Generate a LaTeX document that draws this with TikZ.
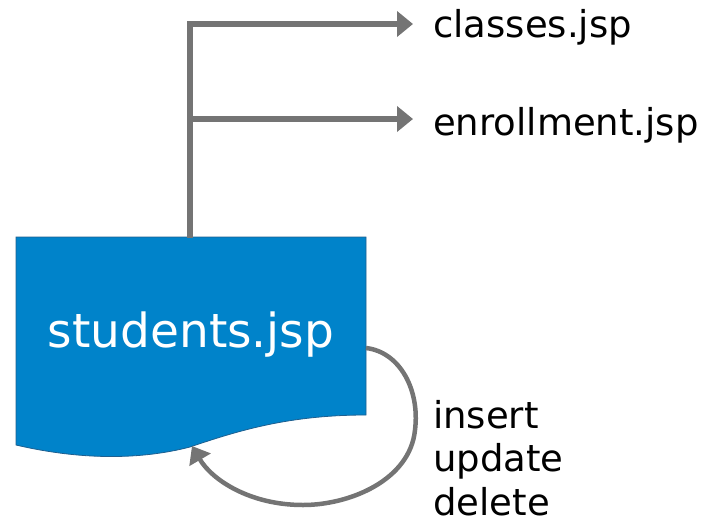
\documentclass[tikz,border=0pt]{standalone}
\usepackage{fontspec}
\setmainfont{DejaVu Sans}
\usetikzlibrary{arrows.meta}
\definecolor{docblue}{HTML}{0083CA}
\definecolor{docedge}{HTML}{1F5F8F}
\definecolor{linegray}{HTML}{747474}
\begin{document}
\begin{tikzpicture}[x=1pt,y=-1pt,
  conn/.style={draw=linegray,line width=6pt,-{Triangle[length=16pt,width=25pt]}},
  loopconn/.style={draw=linegray,line width=4.5pt,-{Triangle[length=16pt,width=24pt]}},
  lbl/.style={anchor=base west,inner sep=0pt,font=\fontsize{37}{44}\selectfont,text=black},
  doctext/.style={anchor=base,inner sep=0pt,font=\fontsize{47}{56}\selectfont,text=white}]
\useasboundingbox (0,0) rectangle (706,525);
% document shape
\path[fill=docblue,draw=docedge,line width=0.8pt]
  (16,237) -- (366,237) -- (366,415)
  .. controls (290,415) and (240,430) .. (190,447)
  .. controls (140,460) and (80,460) .. (16,445) -- cycle;
\node[doctext] (doc) at (191,347) {students.jsp};
\coordinate (top) at (190,238);
\coordinate (loopstart) at (366,348);
\coordinate (loopend) at (192,446);
% labels
\node[lbl] (classes) at (433,37) {classes.jsp};
\node[lbl] (enroll) at (433,135) {enrollment.jsp};
\node[lbl] (ins) at (433,428) {insert};
\node[lbl] (upd) at (433,471) {update};
\node[lbl] (del) at (433,515) {delete};
\coordinate (c1) at (413,24);
\coordinate (c2) at (413,119);
\coordinate (b2) at (190,119);
% connectors
\draw[conn,line join=miter] (top) |- (c1);
\draw[conn] (b2) -- (c2);
\draw[loopconn] (loopstart) .. controls (400,352) and (420,390) .. (415,430)
  .. controls (410,480) and (350,505) .. (303,505)
  .. controls (250,505) and (212,480) .. (loopend);
\end{tikzpicture}
\end{document}
